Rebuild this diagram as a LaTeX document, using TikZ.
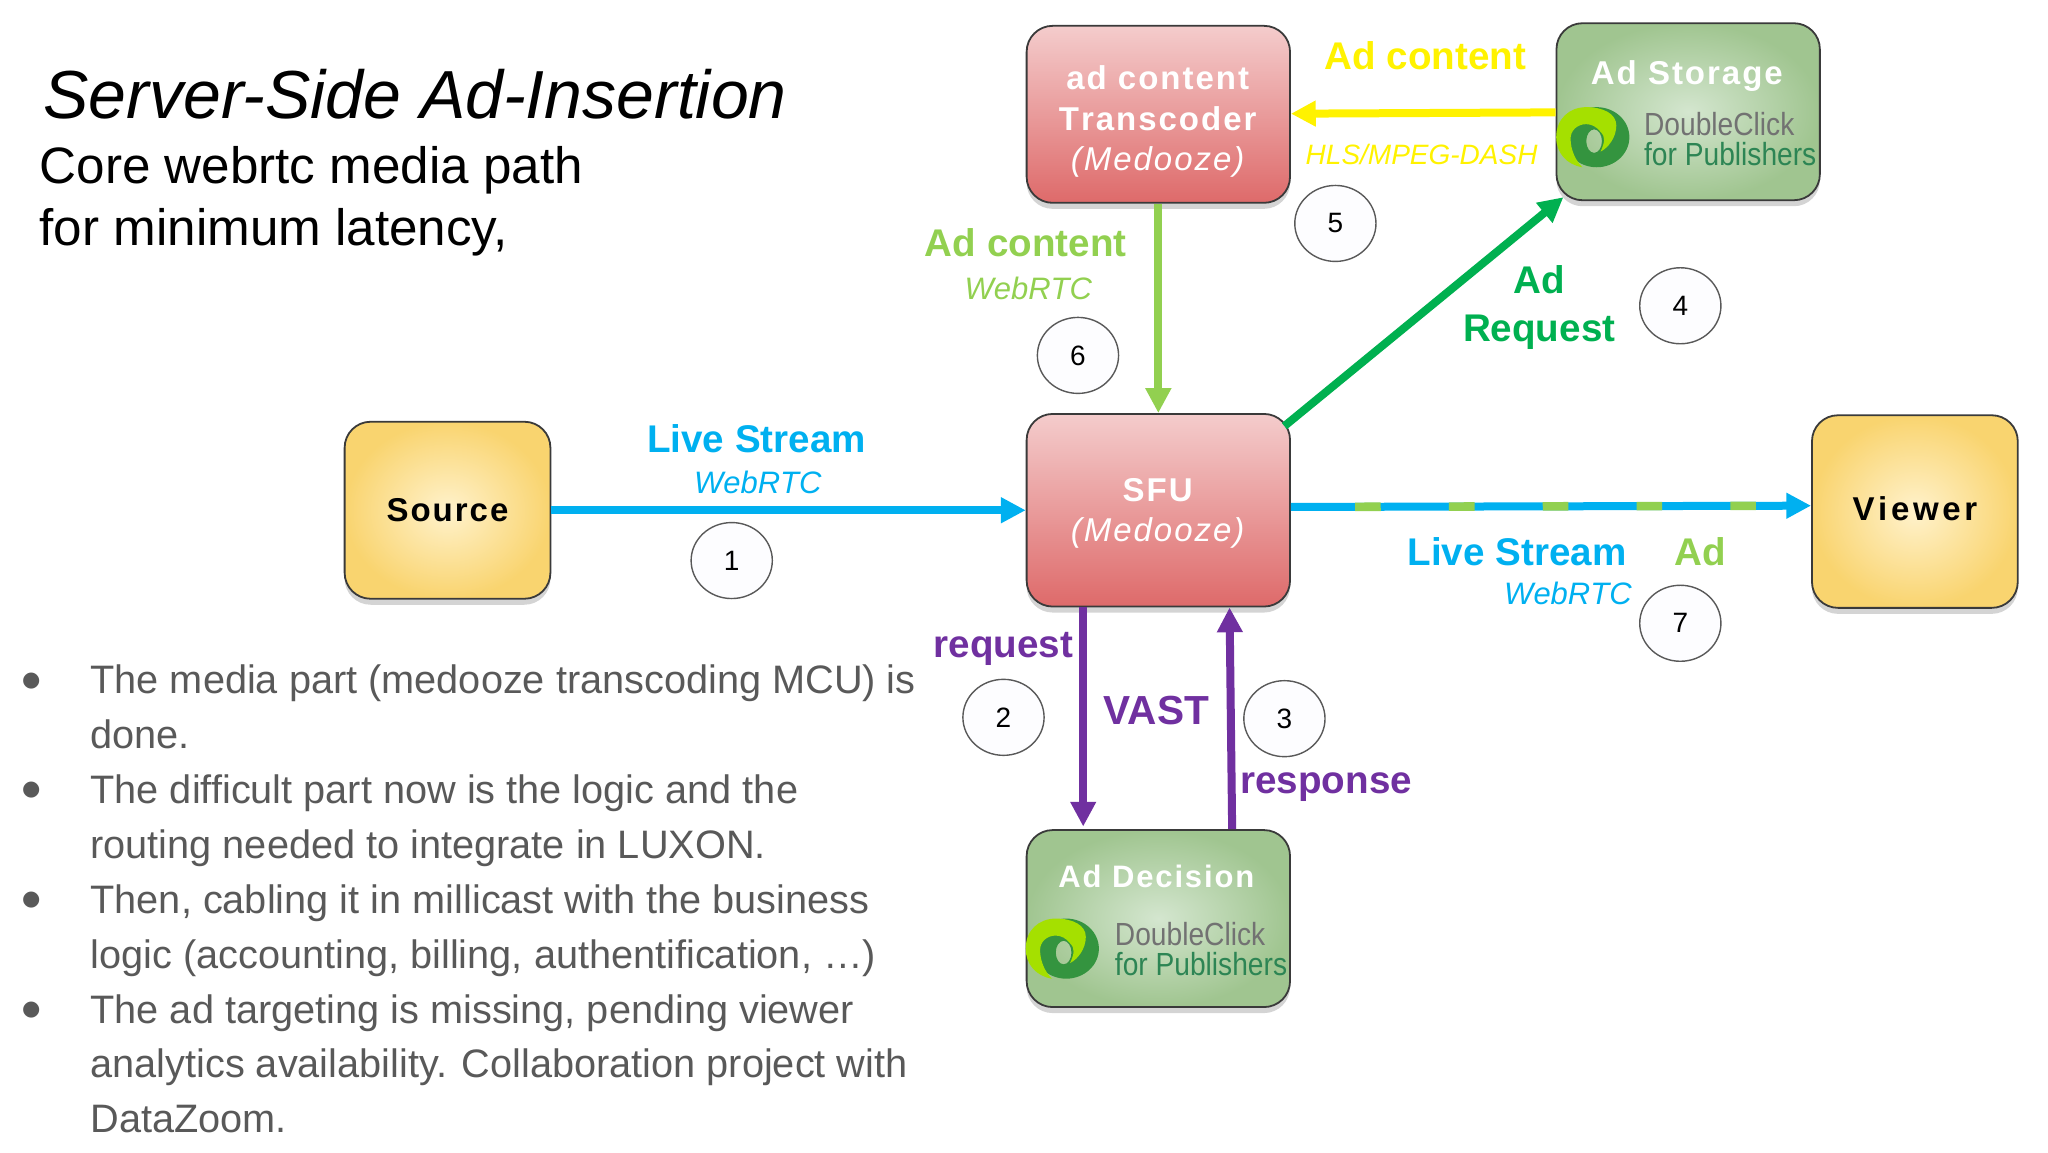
\documentclass[tikz,border=0pt]{standalone}
\usepackage{fontspec}
\setmainfont{Liberation Sans}
\newfontfamily\boxfont[LetterSpace=6,Kerning=Off]{Liberation Sans}
\newfontfamily\subfont[Kerning=Off]{Liberation Sans}
\newfontfamily\dcfont[FakeStretch=.88]{Liberation Sans}
\newfontfamily\dotfont{DejaVu Sans}
\usetikzlibrary{arrows.meta,shapes,shadows,calc}
\definecolor{liveblue}{HTML}{00B0F0}
\definecolor{adgreen}{HTML}{92D050}
\definecolor{reqgreen}{HTML}{00B050}
\definecolor{vastpurple}{HTML}{7030A0}
\definecolor{bodygrey}{HTML}{595959}
\definecolor{edgegrey}{HTML}{3A3A3A}
\definecolor{pinktop}{HTML}{F4CCCC}
\definecolor{pinkbottom}{HTML}{DE6A6A}
\definecolor{sandin}{HTML}{FFF2CC}
\definecolor{sandout}{HTML}{F9D46F}
\definecolor{sagein}{HTML}{D4E6CF}
\definecolor{sageout}{HTML}{A0C590}
\definecolor{dclime}{HTML}{A5E000}
\definecolor{dcdark}{HTML}{34943F}
\tikzstyle{box}=[rectangle,rounded corners=13pt,draw=edgegrey,line width=.9pt,inner sep=0pt,
  			  minimum width=131.7pt,minimum height=88.5pt,align=center,
  			  drop shadow={shadow xshift=0pt,shadow yshift=-3pt,opacity=.17,fill=black}]
\tikzstyle{yellowbox}=[box,inner color=sandin,outer color=sandout,
  			  minimum width=102.9pt,font=\boxfont\bfseries\fontsize{16.5}{20}\selectfont]
\tikzstyle{redbox}=[box,top color=pinktop,bottom color=pinkbottom]
\tikzstyle{greenbox}=[box,inner color=sagein,outer color=sageout]
\tikzstyle{boxtitle}=[text=white,align=center,inner sep=0pt,font=\boxfont\bfseries\fontsize{16.5}{20.3}\selectfont]
\tikzstyle{stepnum}=[ellipse,draw=bodygrey,fill=gray!12!blue!1!white,line width=.7pt,
  			  minimum width=40.6pt,minimum height=38pt,inner sep=0pt,font=\fontsize{14}{16}\selectfont]
\tikzstyle{lbl}=[font=\bfseries\fontsize{19.3}{24}\selectfont,inner sep=0pt,align=center]
\tikzstyle{sublbl}=[font=\subfont\itshape\fontsize{15.5}{18}\selectfont,inner sep=0pt]
\tikzstyle{dclabel}=[anchor=west,inner sep=0pt,font=\dcfont\fontsize{16}{18}\selectfont]
\tikzstyle{bodyline}=[anchor=base west,inner sep=0pt,text=bodygrey,font=\fontsize{19.85}{24}\selectfont]
\tikzstyle{conn}=[->,line width=4pt]
\tikzset{dclogo/.pic={
	\fill[dcdark,even odd rule] (3,0) ellipse [x radius=25,y radius=23]
		(1,3) ellipse [x radius=6,y radius=9];
	\fill[dclime] (-8,23) .. controls (-20,21) and (-28,12) .. (-28,0)
		.. controls (-28,-14) and (-18,-23) .. (-5,-23)
		.. controls (8,-23) and (18,-18) .. (18,-9)
		.. controls (18,0) and (12,8) .. (6,11)
		.. controls (9,4) and (10,0) .. (6,-4)
		.. controls (3,-8) and (-1,-10) .. (-5,-10)
		.. controls (-12,-10) and (-17,-5) .. (-17,1)
		.. controls (-17,10) and (-13,18) .. (-8,23) -- cycle;
}}

\begin{document}
\begin{tikzpicture}[>={Triangle[length=12.4pt,width=12.2pt]},x=.6533pt,y=-.6533pt]
	\useasboundingbox (0,0) rectangle (1567.4,881.7);

	% boxes
	\node[yellowbox] (source) at (342.5,390.5) {Source};
	\node[redbox,minimum height=96.3pt] (sfu) at (886.5,390.5) {};
	\node[yellowbox,minimum height=96.3pt] (viewer) at (1465.5,391.5) {\raisebox{3.5pt}{\addfontfeatures{LetterSpace=11}Viewer}};
	\node[redbox] (transcoder) at (886.5,87.5) {};
	\node[greenbox] (storage) at (1292,85.5) {};
	\node[greenbox] (decision) at (886.5,703) {};

	% box texts and logo
	\node[boxtitle] (sfutext) at (886,393) {SFU\\{\itshape\mdseries (Medooze)}};
	\node[boxtitle] (transcodertext) at (886,93) {ad content\\Transcoder\\{\itshape\mdseries (Medooze)}};
	\node[boxtitle] (storagetitle) at (1291,58) {Ad Storage};
	\pic at (1219,105) {dclogo};
	\node[dclabel,text=bodygrey!85!white] (storagedc) at (1258,95) {DoubleClick};
	\node[dclabel,text=reqgreen!50!bodygrey] (storagepub) at (1258,118) {for Publishers};
	\node[boxtitle,font=\boxfont\bfseries\fontsize{15.5}{18}\selectfont] (decisiontitle) at (885,671) {Ad Decision};
	\pic at (813,726) {dclogo};
	\node[dclabel,text=bodygrey!85!white] (decisiondc) at (853,715) {DoubleClick};
	\node[dclabel,text=reqgreen!50!bodygrey] (decisionpub) at (853,738) {for Publishers};

	% connectors
  \path [conn,liveblue] 
		(source) edge (sfu);
  \path [conn,yellow] 
		(storage) edge (transcoder);
  \path [conn,adgreen] 
		(transcoder) edge (sfu);
  \path [conn,reqgreen] 
		($(sfu.north east)+(-5,10)$) edge ($(storage.south west)+(6,-3)$);
  \path [conn,vastpurple] 
		($(sfu.south)+(-57.5,0)$) edge ($(decision.north)+(-57.5,-2)$);
  \path [conn,vastpurple] 
		($(decision.north)+(56.5,0)$) edge ($(sfu.south)+(54.5,0)$);
  \path [conn,liveblue] 
		($(sfu.east)+(0,-2.5)$) edge ($(viewer.west)+(0,-4.5)$);
  \path [line width=4.3pt,adgreen,dash pattern=on 12.8pt off 34.1pt,dash phase=14.8pt,shorten >=20pt] 
		($(sfu.east)+(0,-2.5)$) edge ($(viewer.west)+(0,-4.5)$);

	% numbers
	\node[stepnum] (s1) at (560,429) {1};
	\node[stepnum] (s2) at (768,549) {2};
	\node[stepnum] (s3) at (983,550) {3};
	\node[stepnum] (s4) at (1286,234) {4};
	\node[stepnum] (s5) at (1022,171) {5};
	\node[stepnum] (s6) at (825,272) {6};
	\node[stepnum] (s7) at (1286,477) {7};

	% connector labels
	\node[lbl,text=liveblue] (livea) at (579,336) {Live Stream};
	\node[sublbl,text=liveblue] (rtca) at (580,369) {WebRTC};
	\node[lbl,text=yellow] (adyellow) at (1091,43) {Ad content};
	\node[sublbl,text=yellow,font=\itshape\fontsize{14}{16}\selectfont] (hls) at (1088,118) {HLS/MPEG-DASH};
	\node[lbl,text=adgreen] (adcontent) at (785,186) {Ad content};
	\node[sublbl,text=adgreen] (rtcb) at (787,221) {WebRTC};
	\node[lbl,text=reqgreen] (adreq) at (1178,235) {Ad\\Request};
	\node[lbl,text=liveblue] (liveb) at (1161,422) {Live Stream};
	\node[lbl,text=adgreen] (adb) at (1301,422) {Ad};
	\node[sublbl,text=liveblue] (rtcc) at (1200,454) {WebRTC};
	\node[lbl,text=vastpurple] (request) at (768,497) {request};
	\node[lbl,text=vastpurple,font=\bfseries\fontsize{20.3}{24}\selectfont] (vast) at (885,544) {VAST};
	\node[lbl,text=vastpurple] (response) at (1015,602) {response};

	% heading
	\node[anchor=west,inner sep=0pt,font=\itshape\fontsize{34}{40}\selectfont] (title) at (33,72) {Server-Side Ad-Insertion};
	\node[anchor=west,inner sep=0pt,font=\fontsize{25.6}{30}\selectfont] (subone) at (30,130) {Core webrtc media path};
	\node[anchor=west,inner sep=0pt,font=\fontsize{25.6}{30}\selectfont] (subtwo) at (30,178) {for minimum latency,};

	% bullet list
	\foreach \i/\ty/\txt in {1/531/{The media part (medooze transcoding MCU) is},
		2/573/{done.},
		3/615/{The difficult part now is the logic and the},
		4/657/{routing needed to integrate in LUXON.},
		5/699/{Then, cabling it in millicast with the business},
		6/741/{logic (accounting, billing, authentification, …)},
		7/783/{The ad targeting is missing, pending viewer},
		8/825/{analytics availability. Collaboration project with},
		9/867/{DataZoom.}}
		\node[bodyline] (line\i) at (69,\ty) {\txt};
	\foreach \ty in {521,605,689,773}
		\node[text=bodygrey,inner sep=0pt,font=\dotfont\fontsize{10.5}{13}\selectfont] (dot\ty) at (24,\ty) {●};

\end{tikzpicture}
\end{document}
